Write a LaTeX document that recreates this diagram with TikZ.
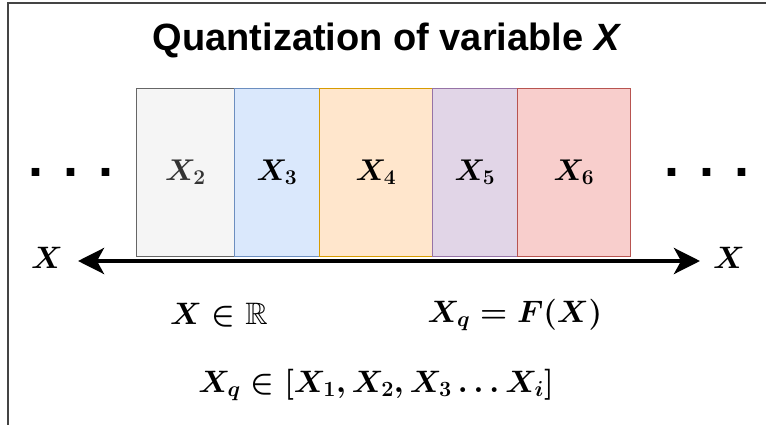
\RequirePackage{fix-cm}
\documentclass[tikz,border=0pt]{standalone}
\usepackage{fontspec}
\usepackage{amssymb}
\newfontfamily\titlefont{Liberation Sans}
\usetikzlibrary{arrows.meta}
\definecolor{grayfill}{HTML}{F5F5F5}\definecolor{graydraw}{HTML}{666666}\definecolor{graytext}{HTML}{333333}
\definecolor{bluefill}{HTML}{DAE8FC}\definecolor{bluedraw}{HTML}{6C8EBF}
\definecolor{orangefill}{HTML}{FFE6CC}\definecolor{orangedraw}{HTML}{D79B00}
\definecolor{purplefill}{HTML}{E1D5E7}\definecolor{purpledraw}{HTML}{9673A6}
\definecolor{redfill}{HTML}{F8CECC}\definecolor{reddraw}{HTML}{B85450}
\definecolor{framecol}{HTML}{444444}
\begin{document}
\begin{tikzpicture}[x=1pt,y=-1pt,
  qbox/.style={draw, line width=0.8pt, minimum height=168pt, inner sep=0pt, anchor=north west,
    font=\fontsize{30}{34}\selectfont\boldmath},
  mathlbl/.style={font=\fontsize{31}{35}\selectfont\boldmath, inner sep=0pt},
  dotstxt/.style={font=\titlefont\bfseries\fontsize{54}{60}\selectfont, inner sep=0pt},
  axis/.style={line width=4pt, {Stealth[length=26pt,width=26pt,inset=7pt]}-{Stealth[length=26pt,width=26pt,inset=7pt]}}
]
\useasboundingbox (0,0) rectangle (766,425);
\draw[line width=1.5pt, framecol] (8,425) -- (8,3) -- (766,3);

\node[font=\titlefont\bfseries\fontsize{38}{44}\selectfont, anchor=base] (title) at (387,51) {Quantization of variable \textit{X}};

\node[qbox, fill=grayfill, draw=graydraw, text=graytext, minimum width=98pt] (b2) at (136,88) {$X_2$};
\node[qbox, fill=bluefill, draw=bluedraw, minimum width=85pt] (b3) at (234,88) {$X_3$};
\node[qbox, fill=orangefill, draw=orangedraw, minimum width=113pt] (b4) at (319,88) {$X_4$};
\node[qbox, fill=purplefill, draw=purpledraw, minimum width=85pt] (b5) at (432,88) {$X_5$};
\node[qbox, fill=redfill, draw=reddraw, minimum width=113pt] (b6) at (517,88) {$X_6$};

\node[dotstxt] (dl) at (71,172) {. . .};
\node[dotstxt] (dr) at (707,172) {. . .};

\coordinate (al) at (78,261);
\coordinate (ar) at (700,261);
\draw[axis] (al) -- (ar);

\node[mathlbl] (xl) at (47,258) {$X$};
\node[mathlbl] (xr) at (729,258) {$X$};
\node[mathlbl] (xinr) at (219,315) {$X \in \mathbb{R}$};
\node[mathlbl] (fx) at (515,315) {$X_q = F(X)$};
\node[mathlbl] (xq) at (376,385) {$X_q \in [X_1, X_2, X_3 \ldots X_i]$};
\end{tikzpicture}
\end{document}
